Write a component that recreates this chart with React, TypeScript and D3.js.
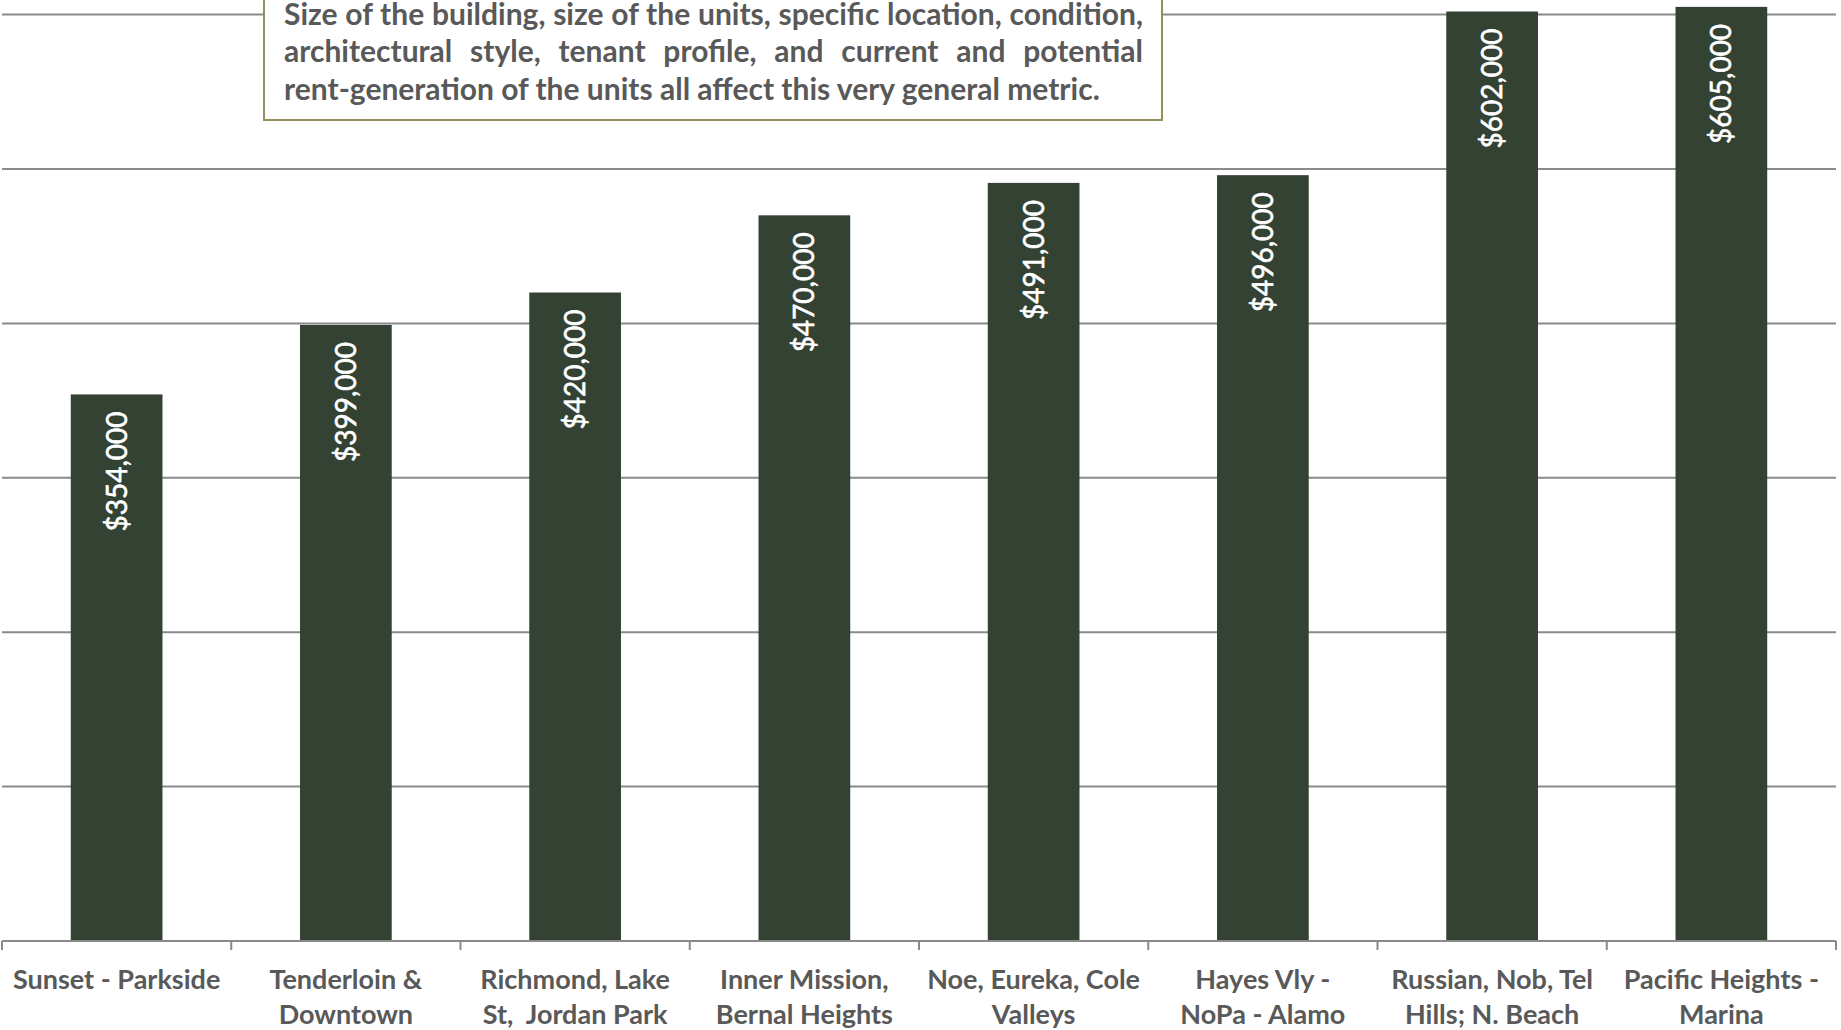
import React, { useLayoutEffect, useRef, useState } from "react";
import * as d3 from "d3";

const categories: string[][] = [
  ["Sunset - Parkside"],
  ["Tenderloin &", "Downtown"],
  ["Richmond, Lake", "St,  Jordan Park"],
  ["Inner Mission,", "Bernal Heights"],
  ["Noe, Eureka, Cole", "Valleys"],
  ["Hayes Vly -", "NoPa - Alamo"],
  ["Russian, Nob, Tel", "Hills; N. Beach"],
  ["Pacific Heights -", "Marina"],
];
const values: number[] = [354000, 399000, 420000, 470000, 491000, 496000, 602000, 605000];
const noteLines: string[] = [
  "Size of the building, size of the units, specific location, condition,",
  "architectural style, tenant profile, and current and potential",
  "rent-generation of the units all affect this very general metric.",
];

const W = 1841;
const H = 1030;
const BAR = "#334233";
const GRID = "#8a8a8a";
const TEXT = "#595959";
const FONT = "Lato, 'Noto Sans', sans-serif";

export default function App() {
  const x = d3
    .scaleBand<number>()
    .domain(d3.range(values.length))
    .range([2, 1836])
    .paddingInner(0.6)
    .paddingOuter(0.3);
  const y = d3.scaleLinear().domain([0, 700000]).range([941, 941 - 7 * 154.4]);
  const step = x.step();
  const gridTicks = y.ticks(7).filter((t) => t > 0);

  const noteLeft = 284;
  const noteRight = 1143;
  const refs = [useRef<SVGTextElement>(null), useRef<SVGTextElement>(null)];
  const [spacing, setSpacing] = useState<number[] | null>(null);
  useLayoutEffect(() => {
    const s = refs.map((r, i) => {
      const el = r.current;
      if (!el) return 0;
      const w = el.getComputedTextLength();
      const nSpaces = (noteLines[i].match(/ /g) || []).length;
      return nSpaces ? (noteRight - noteLeft - w) / nSpaces : 0;
    });
    setSpacing(s);
  }, []);

  return (
    <svg
      width={W}
      height={H}
      style={{ position: "absolute", left: 0, top: 0, background: "#fff" }}
      fontFamily={FONT}
    >
      {gridTicks.map((t) => (
        <line key={t} x1={2} x2={1836} y1={y(t)} y2={y(t)} stroke={GRID} strokeWidth={2} />
      ))}
      {values.map((v, i) => (
        <rect key={i} x={x(i)} y={y(v)} width={x.bandwidth()} height={y(0) - y(v)} fill={BAR} />
      ))}
      {values.map((v, i) => {
        const cx = (x(i) as number) + x.bandwidth() / 2;
        return (
          <text
            key={"l" + i}
            transform={`translate(${cx},${y(v) + 17}) rotate(-90)`}
            textAnchor="end"
            dy="0.36em"
            fill="#ffffff"
            stroke="#ffffff"
            strokeWidth={0.6}
            fontSize={28}
          >
            {d3.format("$,")(v)}
          </text>
        );
      })}
      <line x1={2} x2={1836} y1={y(0)} y2={y(0)} stroke={GRID} strokeWidth={2} />
      {d3.range(values.length + 1).map((k) => {
        const tx = 2 + k * step;
        return <line key={"t" + k} x1={tx} x2={tx} y1={y(0)} y2={y(0) + 9} stroke={GRID} strokeWidth={2} />;
      })}
      {categories.map((lines, i) => {
        const cx = (x(i) as number) + x.bandwidth() / 2;
        return (
          <text key={"c" + i} textAnchor="middle" fill={TEXT} fontWeight="bold" fontSize={27}>
            {lines.map((ln, j) => (
              <tspan key={j} x={cx} y={989 + j * 35} style={{ whiteSpace: "pre" }}>
                {ln}
              </tspan>
            ))}
          </text>
        );
      })}
      <rect x={264} y={-20} width={898} height={140} fill="#ffffff" stroke="#958f5e" strokeWidth={2} />
      {noteLines.map((ln, i) => (
        <text
          key={"n" + i}
          ref={i < 2 ? refs[i] : undefined}
          x={noteLeft}
          y={24.5 + i * 37.5}
          fill={TEXT}
          fontWeight="bold"
          fontSize={30}
          wordSpacing={i < 2 && spacing ? spacing[i] : 0}
        >
          {ln}
        </text>
      ))}
    </svg>
  );
}
